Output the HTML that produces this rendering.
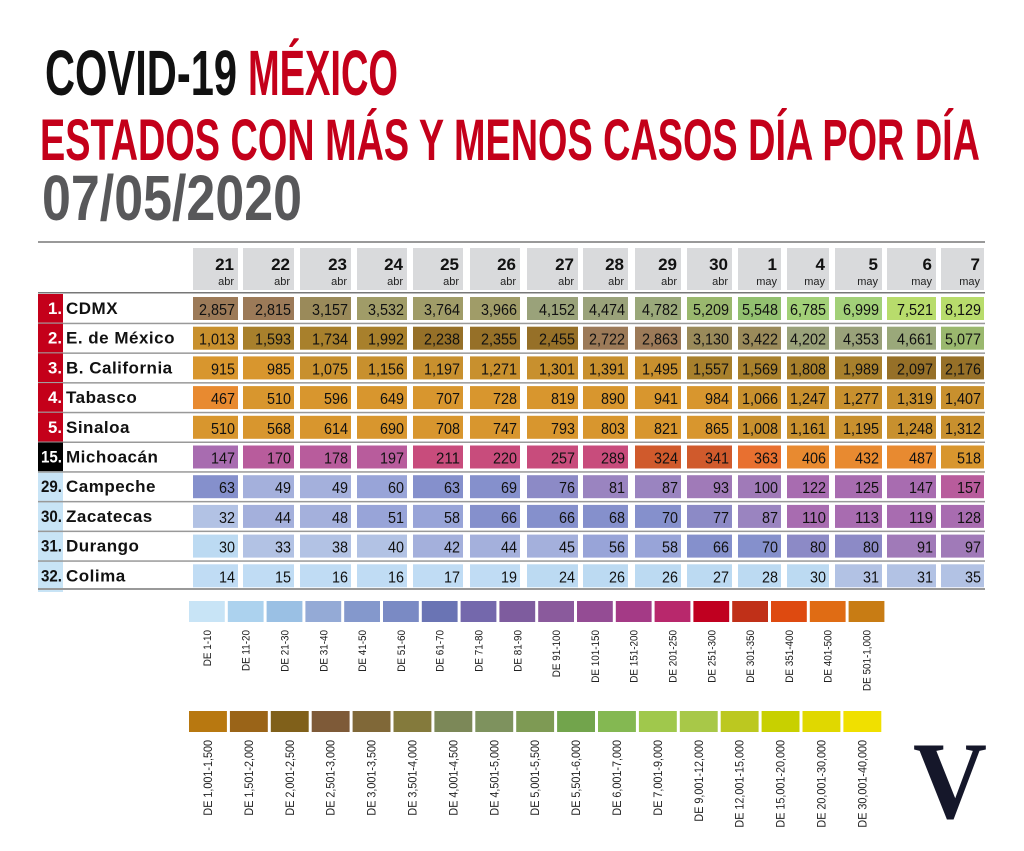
<!DOCTYPE html>
<html><head><meta charset="utf-8"><style>
html,body{margin:0;padding:0;background:#fff;}
svg{display:block;}
text{font-family:"Liberation Sans",sans-serif;}
</style></head><body>
<svg id="s" width="1024" height="851" viewBox="0 0 1024 851" xmlns="http://www.w3.org/2000/svg">
<text x="45" y="95" font-size="64" font-weight="bold" fill="#111" textLength="192" lengthAdjust="spacingAndGlyphs">COVID-19</text>
<text x="248" y="95" font-size="64" font-weight="bold" fill="#c4001a" textLength="150" lengthAdjust="spacingAndGlyphs">MÉXICO</text>
<text x="40" y="160" font-size="58" font-weight="bold" fill="#c4001a" textLength="940" lengthAdjust="spacingAndGlyphs">ESTADOS CON MÁS Y MENOS CASOS DÍA POR DÍA</text>
<text x="42" y="220" font-size="64" font-weight="bold" fill="#58585a" textLength="260" lengthAdjust="spacingAndGlyphs">07/05/2020</text>
<rect x="38" y="241" width="947" height="2" fill="#999"/>
<text x="913" y="818" font-size="110" font-weight="bold" fill="#15172a" textLength="74" lengthAdjust="spacingAndGlyphs" style="font-family:'Liberation Serif',serif">V</text>
<g id="g"></g>
</svg>
<script>
var NS="http://www.w3.org/2000/svg",g=document.getElementById("g");
function el(t,a,txt){var e=document.createElementNS(NS,t);for(var k in a)e.setAttribute(k,a[k]);if(txt!=null)e.textContent=txt;g.appendChild(e);return e;}
var cols=[[193,238],[243,294],[300,351],[357,407],[413,463],[470,520],[527,578],[583,628],[635,681],[687,732],[738,781],[787,829],[835,882],[887,936],[941,984]];
var hd=[["21","abr"],["22","abr"],["23","abr"],["24","abr"],["25","abr"],["26","abr"],["27","abr"],["28","abr"],["29","abr"],["30","abr"],["1","may"],["4","may"],["5","may"],["6","may"],["7","may"]];
cols.forEach(function(c,i){el("rect",{x:c[0],y:248,width:c[1]-c[0],height:42,fill:"#d9dadc"});
el("text",{x:c[1]-4,y:270,"font-size":17,"font-weight":"bold","text-anchor":"end",fill:"#111"},hd[i][0]);
el("text",{x:c[1]-4,y:285,"font-size":11,"text-anchor":"end",fill:"#222"},hd[i][1]);});
var rows=[["1.","CDMX",[2857,2815,3157,3532,3764,3966,4152,4474,4782,5209,5548,6785,6999,7521,8129]],
["2.","E. de México",[1013,1593,1734,1992,2238,2355,2455,2722,2863,3130,3422,4202,4353,4661,5077]],
["3.","B. California",[915,985,1075,1156,1197,1271,1301,1391,1495,1557,1569,1808,1989,2097,2176]],
["4.","Tabasco",[467,510,596,649,707,728,819,890,941,984,1066,1247,1277,1319,1407]],
["5.","Sinaloa",[510,568,614,690,708,747,793,803,821,865,1008,1161,1195,1248,1312]],
["15.","Michoacán",[147,170,178,197,211,220,257,289,324,341,363,406,432,487,518]],
["29.","Campeche",[63,49,49,60,63,69,76,81,87,93,100,122,125,147,157]],
["30.","Zacatecas",[32,44,48,51,58,66,66,68,70,77,87,110,113,119,128]],
["31.","Durango",[30,33,38,40,42,44,45,56,58,66,70,80,80,91,97]],
["32.","Colima",[14,15,16,16,17,19,24,26,26,27,28,30,31,31,35]]];
var rng=[[10,"#c8e4f8"],[20,"#c0dcf4"],[30,"#bcdaf2"],[40,"#b2c2e4"],[50,"#a4b0dc"],[60,"#98a4d8"],[70,"#8590cc"],[80,"#8c8ac6"],[90,"#9a84c0"],[100,"#a07ab8"],[150,"#a86cb0"],[200,"#b85c9c"],[300,"#c84c7c"],[350,"#d05a2c"],[400,"#e87030"],[500,"#e88a30"],[1000,"#d8962e"],[1500,"#c8902e"],[2000,"#a8802c"],[2500,"#967028"],[3000,"#9c7a58"],[3500,"#9a8a5a"],[4000,"#a09c68"],[4500,"#9aa27a"],[5000,"#9aa87a"],[5500,"#9ab86e"],[6000,"#92c070"],[7000,"#a2d078"],[9000,"#b8dc6c"],[1e9,"#c0e070"]];
function col(v){for(var i=0;i<rng.length;i++)if(v<=rng[i][0])return rng[i][1];}
function fmt(v){return v>=1000?Math.floor(v/1000)+","+String(v%1000).padStart(3,"0"):String(v);}
var y0=292,p=29.7;
el("rect",{x:38,y:y0+6*p,width:25,height:4*p+3,fill:"#c8e4f6"});
rows.forEach(function(r,i){var y=y0+i*p;
el("rect",{x:38,y:y+(i==0?0:1),width:947,height:1.5,fill:i==0?"#777":"#999"});
if(i<6)el("rect",{x:38,y:y+2,width:25,height:p-1,fill:i<5?"#c4001a":"#000"});
el("text",{x:62,y:y+22,"font-size":17,"font-weight":"bold","text-anchor":"end",fill:i<6?"#fff":"#111",textLength:(r[0].length*7),lengthAdjust:"spacingAndGlyphs"},r[0]);
el("text",{x:66,y:y+22,"font-size":17,"font-weight":"bold",fill:"#111","letter-spacing":"0.5"},r[1]);
r[2].forEach(function(v,j){var c=cols[j];
el("rect",{x:c[0],y:y+5,width:c[1]-c[0],height:23,fill:col(v)});
el("text",{x:c[1]-3,y:y+23,"font-size":16,"text-anchor":"end",fill:"#111",textLength:(fmt(v).length*8-(v>=1000?4:0)),lengthAdjust:"spacingAndGlyphs"},fmt(v));});});
el("rect",{x:38,y:y0+10*p-1,width:947,height:2,fill:"#999"});
var L1=[["#c8e4f6","DE 1-10"],["#acd2ee","DE 11-20"],["#9ac0e4","DE 21-30"],["#94aad6","DE 31-40"],["#8498cc","DE 41-50"],["#7a8ac4","DE 51-60"],["#6a74b4","DE 61-70"],["#7468ac","DE 71-80"],["#7e5c9e","DE 81-90"],["#8a5a9c","DE 91-100"],["#944c94","DE 101-150"],["#a43a86","DE 151-200"],["#b8286c","DE 201-250"],["#c00020","DE 251-300"],["#c03018","DE 301-350"],["#de4a10","DE 351-400"],["#e06c14","DE 401-500"],["#c87c14","DE 501-1,000"]];
var L2=[["#b87810","DE 1,001-1,500"],["#9a6418","DE 1,501-2,000"],["#80601a","DE 2,001-2,500"],["#7e5a38","DE 2,501-3,000"],["#806838","DE 3,001-3,500"],["#847a3c","DE 3,501-4,000"],["#7c8858","DE 4,001-4,500"],["#7e925e","DE 4,501-5,000"],["#7e9a54","DE 5,001-5,500"],["#72a44c","DE 5,501-6,000"],["#84b852","DE 6,001-7,000"],["#a0c84c","DE 7,001-9,000"],["#a8c848","DE 9,001-12,000"],["#bcc820","DE 12,001-15,000"],["#c8d000","DE 15,001-20,000"],["#e0d800","DE 20,001-30,000"],["#f0e000","DE 30,001-40,000"]];
function leg(L,x0,pitch,yb,yt,fs){L.forEach(function(d,i){var x=x0+i*pitch;
el("rect",{x:x,y:yb,width:pitch-3,height:21,fill:d[0]});
var cx=x+(pitch-3)/2+4;
el("text",{x:0,y:0,"font-size":fs,"text-anchor":"end",fill:"#222",transform:"translate("+cx+","+yt+") rotate(-90) scale(0.9,1)"},d[1]);});}
leg(L1,189,38.8,601,630,11);
leg(L2,189,40.9,711,740,12);
</script>
</body></html>
